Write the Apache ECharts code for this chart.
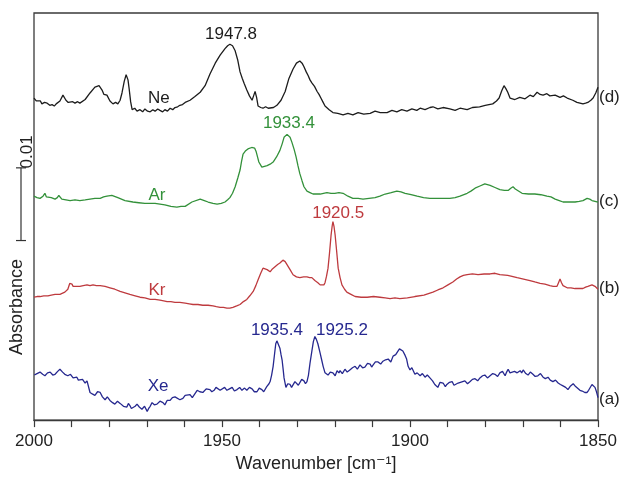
<!DOCTYPE html>
<html>
<head>
<meta charset="utf-8">
<script src="https://cdn.jsdelivr.net/npm/echarts@6/dist/echarts.min.js"></script>
<style>
  html, body { margin: 0; padding: 0; background: #fff; }
  #chart { width: 622px; height: 478px; }
</style>
</head>
<body>
<div id="chart"></div>
<script>
// x: wavenumber [cm-1], y: absorbance x 1000 (traces already stacked as plotted)
const xMin = 1850
const xMax = 2000
const xStep = 50

// (d) Ne
const ne = [
  [2000, 44.3], [1999.4, 43.9], [1998.9, 43.7], [1998.3, 43.9], [1997.9, 43.5], [1997.2, 43.7], [1996.5, 43.6],
  [1995.8, 43.3], [1995.2, 43.4], [1994.6, 43.2], [1994.1, 43.5], [1993.1, 43.9], [1992.3, 44.7], [1991.5, 44.0],
  [1990.9, 43.7], [1990.4, 43.6], [1989.7, 43.8], [1989.1, 43.6], [1988.4, 43.8], [1987.8, 43.6], [1986.4, 44.1],
  [1985.1, 45.0], [1983.8, 45.8], [1982.7, 46.0], [1981.9, 45.4], [1981.4, 44.8], [1980.6, 44.7], [1979.8, 43.9],
  [1979.0, 43.5], [1978.3, 43.7], [1977.7, 43.5], [1977.1, 44.0], [1976.6, 45.0], [1976.0, 46.6], [1975.5, 47.5],
  [1975.0, 46.8], [1974.7, 45.6], [1974.3, 43.8], [1973.9, 42.7], [1973.2, 42.9], [1972.6, 42.5], [1971.8, 42.7],
  [1971.1, 42.4], [1970.5, 42.8], [1969.8, 42.5], [1969.1, 42.4], [1968.4, 42.7], [1967.8, 42.5], [1967.1, 42.8],
  [1966.5, 42.6], [1965.8, 42.4], [1965.2, 42.7], [1964.5, 42.5], [1963.8, 42.9], [1963.1, 42.7], [1962.5, 43.0],
  [1961.8, 43.1], [1961.2, 43.3], [1960.5, 43.4], [1959.8, 43.7], [1958.5, 44.0], [1957.2, 44.5], [1955.8, 45.1],
  [1954.5, 46.0], [1953.2, 47.6], [1951.8, 49.1], [1950.5, 50.2], [1949.2, 51.1], [1948.5, 51.5], [1947.9, 51.7],
  [1947.2, 51.5], [1946.5, 50.8], [1945.8, 49.5], [1945.2, 47.9], [1944.6, 47.0], [1944.1, 46.3], [1943.4, 45.4],
  [1942.7, 44.6], [1942.0, 44.0], [1941.6, 44.6], [1941.2, 45.2], [1940.8, 44.4], [1940.4, 43.2], [1939.7, 43.0],
  [1939.1, 42.9], [1938.4, 43.1], [1937.7, 42.9], [1937.2, 43.1], [1936.3, 43.0], [1935.4, 43.3], [1934.3, 44.0],
  [1933.2, 45.2], [1932.2, 47.0], [1931.1, 48.3], [1930.2, 49.1], [1929.3, 49.4], [1928.7, 49.1], [1928.2, 48.6],
  [1927.6, 47.9], [1927.1, 47.4], [1926.6, 46.8], [1926.1, 46.4], [1925.4, 45.9], [1924.7, 45.2], [1924.2, 44.8],
  [1923.7, 44.3], [1923.1, 43.7], [1922.6, 43.2], [1921.5, 42.7], [1920.5, 42.3], [1919.2, 42.2], [1917.8, 42.0],
  [1916.5, 42.2], [1915.2, 42.0], [1913.8, 42.3], [1912.3, 42.1], [1910.6, 42.2], [1909.3, 42.5], [1907.9, 42.3],
  [1906.1, 42.3], [1904.8, 42.6], [1903.5, 42.4], [1902.2, 42.7], [1900.8, 42.5], [1899.5, 42.8], [1898.2, 42.6],
  [1897.3, 42.9], [1896.0, 42.7], [1894.7, 43.0], [1893.9, 43.1], [1892.6, 42.8], [1891.2, 43.0], [1889.4, 42.8],
  [1888.0, 42.6], [1886.7, 42.9], [1884.8, 42.7], [1883.4, 43.0], [1881.5, 43.1], [1880.0, 43.3], [1878.0, 43.5],
  [1877.0, 43.9], [1876.3, 44.3], [1875.6, 45.3], [1875.0, 46.0], [1874.5, 45.6], [1874.0, 45.1], [1873.4, 44.3],
  [1872.1, 44.1], [1870.8, 44.4], [1869.4, 44.2], [1868.1, 44.7], [1867.2, 44.5], [1866.2, 45.1], [1865.4, 44.8],
  [1864.6, 44.7], [1863.6, 44.9], [1862.8, 44.6], [1861.4, 44.7], [1860.1, 44.4], [1859.2, 44.6], [1858.2, 44.3],
  [1856.7, 44.0], [1855.6, 43.7], [1854.8, 43.6], [1854.0, 43.5], [1853.3, 43.6], [1852.7, 43.7], [1851.9, 44.0],
  [1851.3, 44.3], [1850.6, 45.0], [1850.0, 45.8]
]

// (c) Ar
const ar = [
  [2000, 30.8], [1999.2, 30.6], [1998.4, 30.5], [1997.6, 30.8], [1997.1, 31.2], [1996.7, 30.7], [1996.3, 30.5],
  [1995.4, 30.6], [1994.4, 30.4], [1993.8, 30.6], [1993.4, 30.9], [1993.0, 30.7], [1992.6, 30.4], [1991.5, 30.3],
  [1990.4, 30.2], [1989.1, 30.3], [1987.8, 30.2], [1986.4, 30.3], [1985.1, 30.4], [1983.8, 30.5], [1982.4, 30.5],
  [1981.5, 30.7], [1980.6, 30.8], [1979.3, 30.9], [1977.7, 30.6], [1975.8, 30.2], [1973.7, 30.0], [1972.1, 29.9],
  [1970.5, 29.8], [1969.1, 29.8], [1967.8, 29.8], [1966.5, 29.7], [1965.2, 29.6], [1963.6, 29.4], [1962.0, 29.3],
  [1960.9, 29.4], [1959.8, 29.4], [1958.0, 30.0], [1955.8, 30.4], [1954.7, 30.2], [1953.7, 30.0], [1952.4, 29.8],
  [1951.3, 29.7], [1950.2, 29.8], [1949.2, 30.0], [1948.5, 30.3], [1947.9, 30.6], [1947.2, 31.2], [1946.5, 32.1],
  [1945.8, 33.3], [1945.2, 34.4], [1944.8, 35.6], [1944.4, 36.6], [1943.8, 37.0], [1943.1, 37.3], [1942.6, 37.1],
  [1942.1, 37.5], [1941.7, 37.7], [1941.3, 37.4], [1940.9, 36.9], [1940.5, 36.1], [1940.2, 35.5], [1939.4, 34.8],
  [1938.7, 34.9], [1938.0, 35.0], [1937.2, 35.2], [1936.4, 35.5], [1935.5, 36.2], [1934.6, 37.1], [1934.0, 38.0],
  [1933.5, 38.9], [1932.7, 39.3], [1932.3, 39.2], [1931.9, 38.9], [1931.4, 38.2], [1930.8, 37.2], [1930.3, 36.2],
  [1929.8, 35.0], [1929.3, 33.9], [1928.7, 32.9], [1928.2, 32.1], [1927.4, 31.5], [1926.6, 31.3], [1925.8, 31.1],
  [1923.9, 31.1], [1923.0, 31.2], [1922.1, 31.3], [1921.0, 31.2], [1920.0, 31.2], [1918.9, 31.3], [1917.8, 31.2],
  [1916.5, 30.8], [1915.2, 30.5], [1913.8, 30.5], [1912.5, 30.4], [1910.9, 30.5], [1909.3, 30.6], [1908.0, 30.8],
  [1906.6, 31.1], [1905.0, 31.3], [1903.5, 31.5], [1902.4, 31.4], [1901.3, 31.2], [1899.7, 31.0], [1898.1, 30.8],
  [1896.4, 30.6], [1894.7, 30.5], [1892.0, 30.5], [1889.4, 30.5], [1888.0, 30.6], [1886.7, 30.8], [1884.8, 31.2],
  [1883.8, 31.5], [1882.7, 31.9], [1881.4, 32.2], [1880.1, 32.5], [1879.4, 32.4], [1878.7, 32.3], [1877.4, 32.0],
  [1876.1, 31.7], [1874.9, 31.6], [1873.9, 31.6], [1873.2, 31.9], [1872.6, 32.1], [1872.0, 31.8], [1871.5, 31.6],
  [1870.2, 31.2], [1868.5, 31.1], [1866.8, 31.1], [1865.2, 31.0], [1863.6, 30.8], [1862.5, 30.7], [1861.4, 30.4],
  [1860.3, 30.2], [1859.3, 30.0], [1857.7, 30.0], [1856.1, 30.0], [1855.0, 30.1], [1854.0, 30.2], [1852.9, 30.5],
  [1852.2, 30.4], [1851.6, 30.2], [1850.8, 30.1], [1850.0, 30.0]
]

// (b) Kr
const kr = [
  [2000, 16.9], [1999.2, 17.0], [1998.4, 17.0], [1997.4, 17.1], [1996.3, 17.1], [1995.4, 17.2], [1994.4, 17.3],
  [1993.1, 17.3], [1991.8, 17.6], [1991.0, 18.0], [1990.5, 18.8], [1990.2, 19.0], [1989.9, 18.7], [1989.6, 18.4],
  [1989.1, 18.2], [1987.8, 18.4], [1986.9, 18.5], [1985.9, 18.6], [1985.1, 18.5], [1984.3, 18.6], [1983.4, 18.5],
  [1982.4, 18.5], [1981.1, 18.4], [1979.8, 18.2], [1978.5, 18.0], [1977.1, 17.7], [1975.8, 17.5], [1974.5, 17.3],
  [1973.1, 17.1], [1971.8, 16.9], [1970.5, 16.8], [1969.1, 16.6], [1967.8, 16.6], [1966.5, 16.5], [1965.5, 16.4],
  [1964.6, 16.3], [1963.6, 16.3], [1962.5, 16.2], [1961.2, 16.2], [1959.8, 16.1], [1958.7, 16.0], [1957.7, 15.9],
  [1956.4, 15.9], [1955.1, 15.8], [1953.7, 15.8], [1952.4, 15.7], [1951.5, 15.6], [1950.5, 15.5], [1949.6, 15.5],
  [1948.7, 15.4], [1947.9, 15.4], [1947.1, 15.5], [1946.1, 15.7], [1945.2, 15.9], [1944.3, 16.3], [1943.4, 16.6],
  [1942.6, 17.1], [1941.7, 17.7], [1941.0, 18.5], [1940.4, 19.3], [1939.7, 20.2], [1939.1, 20.9], [1938.6, 20.8],
  [1938.0, 20.7], [1937.2, 20.4], [1936.6, 20.8], [1935.9, 21.1], [1935.2, 21.4], [1934.6, 21.6], [1933.8, 22.0],
  [1933.2, 21.8], [1932.7, 21.6], [1931.9, 20.7], [1931.1, 20.0], [1930.2, 19.7], [1929.3, 19.6], [1928.3, 19.7],
  [1927.4, 19.7], [1926.7, 19.6], [1926.1, 19.6], [1925.3, 19.2], [1924.5, 18.9], [1923.9, 18.6], [1923.4, 18.4],
  [1922.9, 18.6], [1922.6, 18.9], [1922.2, 19.8], [1921.8, 20.9], [1921.4, 23.0], [1921.0, 25.4], [1920.7, 26.7],
  [1920.5, 27.3], [1920.2, 26.6], [1919.9, 25.4], [1919.5, 23.2], [1919.1, 20.9], [1918.6, 19.6], [1918.1, 18.6],
  [1917.4, 18.0], [1916.8, 17.6], [1915.7, 17.3], [1914.6, 17.0], [1913.0, 16.9], [1911.4, 16.9], [1909.7, 17.0],
  [1908.0, 16.9], [1906.6, 16.8], [1905.3, 16.7], [1904.0, 16.8], [1902.7, 16.7], [1900.7, 16.8], [1898.7, 17.0],
  [1896.3, 17.2], [1893.9, 17.6], [1892.6, 17.9], [1891.2, 18.2], [1889.9, 18.6], [1888.6, 19.0], [1887.6, 19.4],
  [1886.7, 19.7], [1885.8, 19.9], [1884.8, 20.0], [1883.4, 20.1], [1881.9, 20.0], [1880.3, 20.1], [1878.7, 20.1],
  [1877.4, 20.2], [1876.1, 20.0], [1874.0, 19.9], [1871.5, 19.6], [1869.8, 19.4], [1868.1, 19.2], [1866.8, 19.0],
  [1865.4, 18.8], [1864.1, 18.7], [1862.8, 18.5], [1861.9, 18.4], [1860.9, 18.4], [1860.5, 18.9], [1860.1, 19.4],
  [1859.7, 18.9], [1859.3, 18.5], [1858.2, 18.2], [1857.2, 18.2], [1856.1, 18.1], [1855.0, 18.1], [1854.0, 18.1],
  [1853.3, 18.3], [1852.7, 18.4], [1851.6, 18.6], [1850.8, 18.4], [1850.0, 18.0]
]

// (a) Xe
const xe = [
  [1999.9, 6.2], [1999.2, 6.4], [1998.4, 6.6], [1997.7, 6.3], [1997.1, 6.1], [1996.4, 6.5], [1995.7, 6.6],
  [1995.0, 6.2], [1994.4, 6.3], [1993.7, 6.7], [1993.1, 7.0], [1992.4, 6.6], [1991.8, 6.3], [1991.0, 6.1],
  [1990.3, 6.3], [1989.6, 5.8], [1988.6, 5.9], [1988.2, 5.5], [1987.8, 5.4], [1987.1, 5.6], [1986.4, 5.1],
  [1985.9, 5.4], [1985.6, 5.4], [1985.1, 3.8], [1984.5, 3.6], [1983.8, 3.4], [1983.1, 3.9], [1982.4, 3.8],
  [1981.8, 3.2], [1981.1, 2.8], [1980.5, 3.2], [1979.8, 2.7], [1979.1, 2.4], [1978.5, 2.2], [1977.8, 2.6],
  [1977.1, 2.3], [1976.2, 1.9], [1975.3, 1.8], [1974.9, 2.3], [1974.5, 2.0], [1974.1, 1.6], [1973.7, 1.4],
  [1973.1, 1.9], [1972.6, 2.2], [1972.0, 1.8], [1971.3, 1.5], [1970.6, 1.9], [1969.9, 1.2], [1969.5, 1.6],
  [1969.1, 1.9], [1968.6, 2.4], [1968.0, 2.1], [1967.3, 2.2], [1966.5, 2.6], [1965.7, 2.4], [1965.2, 2.1],
  [1964.6, 2.7], [1963.8, 2.7], [1963.2, 3.1], [1962.5, 3.2], [1962.0, 3.1], [1961.2, 2.8], [1960.4, 3.0],
  [1959.8, 3.4], [1959.3, 3.5], [1958.5, 3.5], [1957.9, 3.1], [1957.4, 3.2], [1956.6, 4.1], [1955.9, 3.9],
  [1955.1, 3.8], [1954.2, 4.3], [1953.2, 4.2], [1952.7, 3.9], [1952.1, 4.1], [1951.6, 4.5], [1951.1, 4.6],
  [1950.5, 4.1], [1950.0, 4.2], [1949.3, 4.5], [1948.7, 4.1], [1948.0, 4.3], [1947.3, 4.5], [1946.7, 4.0],
  [1946.0, 4.2], [1945.3, 4.5], [1944.7, 4.1], [1944.0, 4.4], [1943.4, 4.1], [1942.7, 4.5], [1942.0, 4.3],
  [1941.4, 3.9], [1940.7, 3.9], [1940.1, 4.4], [1939.4, 4.2], [1938.9, 3.9], [1938.6, 4.1], [1938.1, 4.6],
  [1937.8, 4.5], [1937.5, 5.0], [1937.2, 5.3], [1936.8, 6.2], [1936.4, 7.4], [1936.0, 9.2], [1935.7, 10.5],
  [1935.4, 10.9], [1935.0, 10.4], [1934.6, 9.9], [1934.3, 9.0], [1934.0, 8.2], [1933.7, 6.8], [1933.5, 5.8],
  [1933.0, 4.5], [1932.5, 5.0], [1931.9, 4.9], [1931.5, 4.5], [1931.1, 4.7], [1930.6, 5.3], [1930.1, 5.1],
  [1929.7, 4.8], [1929.3, 5.0], [1928.8, 5.6], [1928.2, 5.4], [1927.8, 5.0], [1927.4, 5.3], [1927.0, 6.2],
  [1926.6, 7.8], [1926.1, 9.5], [1925.7, 10.8], [1925.3, 11.5], [1924.9, 11.1], [1924.5, 10.5], [1923.9, 9.2],
  [1923.5, 8.3], [1923.1, 7.4], [1922.6, 6.5], [1921.8, 6.2], [1921.2, 6.6], [1920.5, 6.5], [1919.9, 6.1],
  [1919.4, 6.8], [1918.9, 6.5], [1918.6, 6.8], [1918.0, 6.4], [1917.3, 7.0], [1916.7, 6.6], [1916.0, 6.9],
  [1915.3, 7.2], [1914.6, 7.4], [1914.0, 7.0], [1913.3, 7.6], [1912.6, 7.2], [1912.0, 7.3], [1911.3, 7.8],
  [1910.6, 7.7], [1910.2, 7.3], [1909.8, 7.6], [1909.2, 8.0], [1908.5, 8.0], [1907.8, 7.7], [1907.2, 8.1],
  [1906.5, 8.3], [1905.8, 8.4], [1905.1, 8.0], [1904.5, 8.8], [1903.8, 9.0], [1903.2, 9.5], [1902.8, 9.8],
  [1902.4, 10.0], [1901.9, 9.5], [1901.3, 8.9], [1900.9, 8.4], [1900.5, 7.4], [1900.0, 6.9], [1899.5, 7.2],
  [1898.7, 6.3], [1898.1, 6.5], [1897.3, 6.1], [1896.7, 6.4], [1896.0, 5.9], [1895.4, 6.2], [1894.7, 5.8],
  [1894.0, 5.4], [1893.4, 4.9], [1892.6, 4.5], [1892.0, 5.2], [1891.2, 5.1], [1890.6, 4.6], [1890.2, 4.9],
  [1889.5, 5.2], [1888.8, 5.3], [1888.3, 4.8], [1887.8, 4.7], [1887.2, 5.1], [1886.7, 4.9], [1886.0, 5.3],
  [1885.4, 5.4], [1884.7, 5.0], [1884.0, 5.3], [1883.4, 5.6], [1882.7, 5.7], [1882.0, 5.4], [1881.4, 5.8],
  [1880.7, 6.1], [1880.1, 6.2], [1879.4, 5.8], [1878.7, 6.1], [1878.0, 6.4], [1877.4, 6.3], [1876.7, 6.0],
  [1876.1, 6.5], [1875.4, 6.7], [1874.7, 6.1], [1874.3, 6.6], [1873.9, 7.0], [1873.4, 6.5], [1872.9, 6.3],
  [1872.2, 6.7], [1871.5, 6.5], [1871.1, 6.7], [1870.7, 6.8], [1870.3, 6.5], [1869.9, 6.9], [1869.2, 6.4],
  [1868.6, 6.2], [1868.0, 6.6], [1867.3, 6.3], [1866.7, 6.0], [1866.0, 6.1], [1865.3, 6.4], [1864.6, 5.9],
  [1864.0, 5.7], [1863.3, 5.9], [1862.7, 5.5], [1862.0, 5.3], [1861.3, 5.5], [1860.6, 5.1], [1860.0, 4.9],
  [1859.3, 4.7], [1858.6, 4.5], [1858.0, 4.2], [1857.3, 4.7], [1856.6, 5.0], [1856.1, 4.7], [1855.6, 4.5],
  [1854.8, 4.1], [1854.2, 4.0], [1853.5, 3.8], [1852.9, 3.8], [1852.5, 4.1], [1852.1, 4.3], [1851.6, 4.9],
  [1851.2, 4.8], [1850.8, 4.5], [1850.4, 3.9], [1850.0, 3.1]
]

// text annotations [wavenumber, y, text]
const neNotes = [[1966.8, 44.2, 'Ne'], [1947.6, 53.1, '1947.8']]
const arNotes = [[1967.3, 30.9, 'Ar'], [1932.2, 40.8, '1933.4']]
const krNotes = [[1967.3, 17.8, 'Kr'], [1919.1, 28.5, '1920.5']]
const xeNotes = [[1967.0, 4.7, 'Xe'], [1935.4, 12.3, '1935.4'], [1918.1, 12.3, '1925.2']]
// trace tags on the right edge [y, text]
const tags = [[44.4, '(d)'], [30.1, '(c)'], [18.1, '(b)'], [2.8, '(a)']]

const yMax = 56 // 0.056 absorbance over the plot height
const scaleBarFrom = 24.7
const scaleBarSize = 10 // 0.01 absorbance

const font = '"Liberation Sans", Arial, "DejaVu Sans", sans-serif'
const axisColor = '#3a3a3a'

function notes(list, color, tag) {
    let data = list.map(n => ({
        coord: [n[0], n[1]],
        label: {
            show: true,
            position: 'inside',
            formatter: n[2],
            color: color,
            fontSize: 17,
            fontFamily: font
        }
    }))
    data.push({
        coord: [xMin, tag[0]],
        label: {
            show: true,
            position: 'right',
            distance: 1,
            formatter: tag[1],
            color: '#222',
            fontSize: 17,
            fontFamily: font
        }
    })
    return {
        symbol: 'circle',
        symbolSize: 0,
        silent: true,
        data: data
    }
}

function trace(name, data, color, list, tag) {
    return {
        type: 'line',
        name: name,
        data: data,
        showSymbol: false,
        symbol: 'none',
        lineStyle: { color: color, width: 1.3 },
        animation: false,
        markPoint: notes(list, color, tag)
    }
}

const chart = echarts.init(document.getElementById('chart'))

chart.setOption({
    animation: false,
    grid: {
        left: 34,
        right: 24,
        top: 13,
        bottom: 50,
        show: true,
        borderColor: axisColor,
        borderWidth: 1.3
    },
    xAxis: {
        type: 'value',
        inverse: true,
        min: xMin,
        max: xMax,
        interval: xStep,
        name: 'Wavenumber [cm⁻¹]',
        nameLocation: 'middle',
        nameGap: 30,
        nameTextStyle: { fontSize: 18, color: '#222', fontFamily: font },
        axisLine: { lineStyle: { color: axisColor, width: 1.3 } },
        axisTick: { inside: false, length: 7, lineStyle: { color: axisColor, width: 1.2 } },
        minorTick: { show: true, splitNumber: 5, length: 7, lineStyle: { color: axisColor, width: 1.2 } },
        splitLine: { show: false },
        axisLabel: {
            fontSize: 17,
            color: '#222',
            margin: 13,
            fontFamily: font,
            formatter: v => String(v)
        }
    },
    yAxis: {
        type: 'value',
        min: 0,
        max: yMax,
        show: false
    },
    series: [
        trace('Ne', ne, '#1c1c1c', neNotes, tags[0]),
        trace('Ar', ar, '#33913a', arNotes, tags[1]),
        trace('Kr', kr, '#be3a3e', krNotes, tags[2]),
        trace('Xe', xe, '#26288f', xeNotes, tags[3])
    ]
})

// scale bar and y title, placed against the y scale
const yTop = chart.convertToPixel({ yAxisIndex: 0 }, scaleBarFrom + scaleBarSize)
const yBot = chart.convertToPixel({ yAxisIndex: 0 }, scaleBarFrom)
const barX = 21

chart.setOption({
    graphic: [
        { type: 'line', shape: { x1: barX, y1: yTop, x2: barX, y2: yBot }, style: { stroke: '#333', lineWidth: 1.2 } },
        { type: 'line', shape: { x1: barX - 5, y1: yTop, x2: barX + 5, y2: yTop }, style: { stroke: '#333', lineWidth: 1.2 } },
        { type: 'line', shape: { x1: barX - 5, y1: yBot, x2: barX + 5, y2: yBot }, style: { stroke: '#333', lineWidth: 1.2 } },
        {
            type: 'text', x: 27, y: yTop - 16, rotation: Math.PI / 2,
            style: { text: '0.01', fontSize: 17, fontFamily: font, fill: '#222', align: 'center', verticalAlign: 'middle' }
        },
        {
            type: 'text', x: 17, y: 307, rotation: Math.PI / 2,
            style: { text: 'Absorbance', fontSize: 18, fontFamily: font, fill: '#222', align: 'center', verticalAlign: 'middle' }
        }
    ]
})
</script>
</body>
</html>
